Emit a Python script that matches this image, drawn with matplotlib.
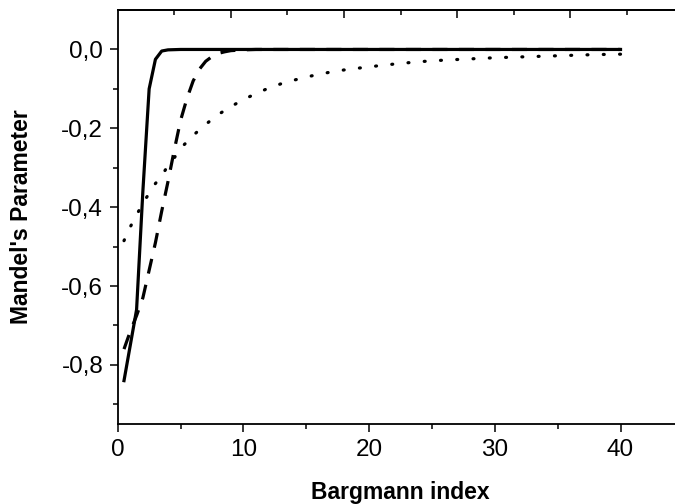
import matplotlib
matplotlib.use("Agg")
import matplotlib.pyplot as plt
from matplotlib.ticker import FixedLocator, MultipleLocator, NullFormatter

# ---- data ----
k_solid = [0.5, 1, 1.5, 2, 2.5, 3, 3.5, 4, 5, 6, 8, 10, 15, 20, 25, 30, 35, 40]
q_solid = [-0.84, -0.75, -0.66, -0.36, -0.10, -0.025, -0.004, -0.001,
           0, 0, 0, 0, 0, 0, 0, 0, 0, 0]

k_dash = [0.5, 1, 1.5, 2, 2.5, 3, 3.5, 4, 4.5, 5, 5.5, 6, 6.5, 7, 7.5, 8, 8.5,
          9, 10, 11, 15, 20, 25, 30, 35, 40]
q_dash = [-0.76, -0.715, -0.675, -0.63, -0.56, -0.49, -0.41, -0.335, -0.255,
          -0.18, -0.125, -0.08, -0.05, -0.03, -0.018, -0.01, -0.006, -0.003,
          -0.001, 0, 0, 0, 0, 0, 0, 0]

k_dot = [0.5, 1, 1.5, 2, 2.5, 3, 3.5, 4, 4.5, 5, 5.5, 6, 7, 8, 9, 10, 11, 12,
         13, 14, 15, 16, 17, 18, 19, 20, 22, 24, 26, 28, 30, 32, 34, 36, 38, 40]
q_dot = [-0.485, -0.45, -0.42, -0.39, -0.365, -0.34, -0.32, -0.295, -0.275,
         -0.25, -0.235, -0.218, -0.19, -0.165, -0.145, -0.127, -0.112, -0.098,
         -0.087, -0.078, -0.07, -0.063, -0.057, -0.052, -0.048, -0.044, -0.037,
         -0.031, -0.027, -0.024, -0.021, -0.019, -0.017, -0.015, -0.013, -0.012]

x_ticks = [0, 10, 20, 30, 40]
x_tick_labels = ["0", "10", "20", "30", "40"]
y_ticks = [-0.8, -0.6, -0.4, -0.2, 0.0]
y_tick_labels = ["-0,8", "-0,6", "-0,4", "-0,2", "0,0"]
top_major = [9, 18, 27, 36]
top_minor = [4.5, 13.5, 22.5, 31.5, 40.5]

plt.rcParams["font.family"] = ["Liberation Sans", "DejaVu Sans"]

fig = plt.figure(figsize=(6.75, 5.04), dpi=100)
ax = fig.add_axes([0.1744, 0.1587, 0.838, 0.8214])

lw = 2.3
ax.plot(k_solid, q_solid, color="black", lw=lw, solid_joinstyle="round")
ax.plot(k_dash, q_dash, color="black", lw=lw, linestyle=(0, (4.7, 3.6)),
        dash_capstyle="butt")
ax.plot(k_dot, q_dot, color="black", lw=lw, linestyle=(0, (0.3, 4.8)),
        dash_capstyle="round")

ax.set_xlim(0, 45)
ax.set_ylim(-0.95, 0.1)

ax.xaxis.set_major_locator(FixedLocator(x_ticks))
ax.set_xticklabels(x_tick_labels)
ax.xaxis.set_minor_locator(MultipleLocator(5))
ax.yaxis.set_major_locator(FixedLocator(y_ticks))
ax.set_yticklabels(y_tick_labels)
ax.yaxis.set_minor_locator(FixedLocator([-0.9, -0.7, -0.5, -0.3, -0.1]))

for s in ["left", "bottom", "top"]:
    ax.spines[s].set_linewidth(1.3)
ax.spines["right"].set_visible(False)

ax.tick_params(axis="both", which="major", direction="out", length=5.5,
               width=1.1, labelsize=17.5, pad=5)
ax.tick_params(axis="both", which="minor", direction="out", length=3.5,
               width=1.1)
ax.tick_params(top=False, right=False, which="both")

ax2 = ax.twiny()
ax2.set_xlim(ax.get_xlim())
ax2.xaxis.set_major_locator(FixedLocator(top_major))
ax2.xaxis.set_minor_locator(FixedLocator(top_minor))
ax2.xaxis.set_major_formatter(NullFormatter())
ax2.tick_params(axis="x", which="major", direction="in", length=5.8, width=1.1)
ax2.tick_params(axis="x", which="minor", direction="in", length=3.6, width=1.1)
for s in ["left", "bottom", "right"]:
    ax2.spines[s].set_visible(False)
ax2.spines["top"].set_linewidth(1.3)

ax.set_xlabel("Bargmann index", fontsize=16.5, fontweight="bold")
ax.set_ylabel("Mandel's Parameter", fontsize=16.5, fontweight="bold")
ax.xaxis.set_label_coords(0.5, -0.138)
ax.yaxis.set_label_coords(-0.150, 0.5)

fig.savefig("out.png", dpi=100)
